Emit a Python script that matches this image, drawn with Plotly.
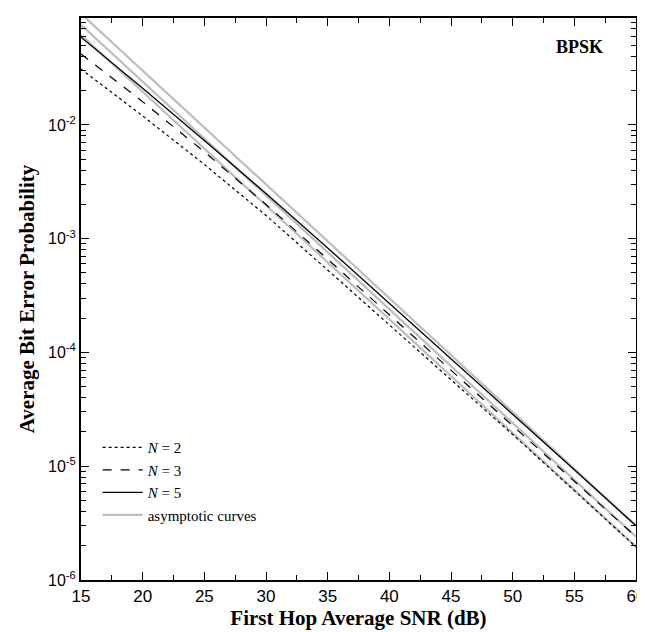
import plotly.graph_objects as go

snr_db = [15, 20, 25, 30, 35, 40, 45, 50, 55, 60]

ber_n2 = [0.031, 0.012, 0.0045, 0.0016, 5.3e-4, 1.75e-4, 5.8e-5, 1.9e-5, 6.1e-6, 1.95e-6]
ber_n3 = [0.042, 0.016, 0.0058, 0.0020, 6.6e-4, 2.15e-4, 7.0e-5, 2.3e-5, 7.4e-6, 2.4e-6]
ber_n5 = [0.059, 0.021, 0.0073, 0.0025, 8.3e-4, 2.7e-4, 8.8e-5, 2.9e-5, 9.3e-6, 3.0e-6]

asym_n2 = [0.062, 0.0196, 0.0062, 0.00196, 6.2e-4, 1.96e-4, 6.2e-5, 1.96e-5, 6.2e-6, 1.96e-6]
asym_n3 = [0.076, 0.024, 0.0076, 0.0024, 7.6e-4, 2.4e-4, 7.6e-5, 2.4e-5, 7.6e-6, 2.4e-6]
asym_n5 = [0.095, 0.030, 0.0095, 0.0030, 9.5e-4, 3.0e-4, 9.5e-5, 3.0e-5, 9.5e-6, 3.0e-6]

x_tick_vals = [15, 20, 25, 30, 35, 40, 45, 50, 55, 60]
y_tick_vals = [1e-6, 1e-5, 1e-4, 1e-3, 1e-2]
y_tick_text = ["10<sup>-6</sup>", "10<sup>-5</sup>", "10<sup>-4</sup>", "10<sup>-3</sup>", "10<sup>-2</sup>"]

GRAY = "#bdbdbd"
fig = go.Figure()
for name, ys, show in [("asymptotic curves", asym_n5, True), ("a3", asym_n3, False), ("a2", asym_n2, False)]:
    fig.add_trace(go.Scatter(x=snr_db, y=ys, mode="lines", line=dict(color=GRAY, width=2.2),
                             name=name, showlegend=show, legendrank=4))
fig.add_trace(go.Scatter(x=snr_db, y=ber_n2, mode="lines", line=dict(color="black", width=1.2, dash="dot"),
                         name="<i>N</i> = 2", legendrank=1))
fig.add_trace(go.Scatter(x=snr_db, y=ber_n3, mode="lines", line=dict(color="black", width=1.2, dash="dash"),
                         name="<i>N</i> = 3", legendrank=2))
fig.add_trace(go.Scatter(x=snr_db, y=ber_n5, mode="lines", line=dict(color="black", width=1.3),
                         name="<i>N</i> = 5", legendrank=3))

sans = "Liberation Sans, Arial, sans-serif"
serif = "Liberation Serif, Times New Roman, serif"

fig.update_layout(
    width=645, height=632,
    margin=dict(l=73, r=8, t=8, b=60),
    plot_bgcolor="white", paper_bgcolor="white",
    showlegend=True,
    legend=dict(x=0.03, y=0.265, xanchor="left", yanchor="top", bgcolor="rgba(0,0,0,0)",
                font=dict(family=serif, size=15, color="black"), tracegroupgap=0,
                itemwidth=40),
    annotations=[dict(x=0.945, y=0.948, xref="paper", yref="paper", xanchor="right", yanchor="middle",
                      text="<b>BPSK</b>", showarrow=False, font=dict(family=serif, size=18, color="black"))],
)
fig.update_xaxes(
    range=[15, 60], tickmode="array", tickvals=x_tick_vals,
    ticks="inside", ticklen=8, tickwidth=1.2, tickcolor="black",
    minor=dict(ticks="inside", ticklen=5, tickwidth=1, tickcolor="black", dtick=2.5, tick0=15),
    showline=True, linecolor="black", linewidth=2, mirror="ticks", showgrid=False, zeroline=False,
    ticklabeloverflow="allow",
    tickfont=dict(family=sans, size=17, color="black"),
    title=dict(text="<b>First Hop Average SNR (dB)</b>", font=dict(family=serif, size=21, color="black"), standoff=2),
)
fig.update_yaxes(
    type="log", range=[-6, -1.06], tickmode="array", tickvals=y_tick_vals, ticktext=y_tick_text,
    ticks="inside", ticklen=8, tickwidth=1.2, tickcolor="black",
    minor=dict(ticks="inside", ticklen=5, tickwidth=1, tickcolor="black", dtick="D1"),
    showline=True, linecolor="black", linewidth=2, mirror="ticks", showgrid=False, zeroline=False,
    tickfont=dict(family=sans, size=16, color="black"),
    title=dict(text="<b>Average Bit Error Probability</b>", font=dict(family=serif, size=21, color="black"), standoff=8),
)
fig.write_html("out.html")
